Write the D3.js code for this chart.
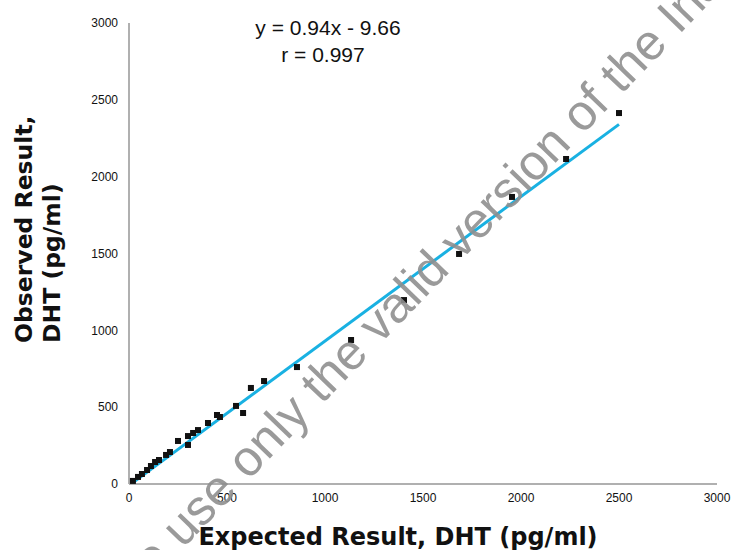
<!DOCTYPE html>
<html>
<head>
<meta charset="utf-8">
<script src="https://cdn.jsdelivr.net/npm/d3@7"></script>
<style>
  html, body { margin: 0; padding: 0; background: #fff; }
  svg { display: block; }
</style>
</head>
<body>
<script>
// ---- data ----
const expected = [20, 46, 66, 92, 112, 133, 153, 189, 209, 250, 301, 301, 327, 352, 403, 449, 464, 546, 582, 622, 689, 857, 1133, 1403, 1684, 1954, 2230, 2500];
const observed = [20, 46, 65, 91, 117, 143, 156, 189, 208, 280, 254, 312, 332, 351, 397, 449, 436, 508, 462, 625, 670, 761, 937, 1197, 1497, 1868, 2115, 2414];
const xTicks = [0, 500, 1000, 1500, 2000, 2500, 3000];
const yTicks = [0, 500, 1000, 1500, 2000, 2500, 3000];
const slope = 0.94, intercept = -9.66;
const equationLines = ["y = 0.94x - 9.66", "r = 0.997"];
const xTitle = "Expected Result, DHT (pg/ml)";
const yTitleLines = ["Observed Result,", "DHT (pg/ml)"];
const watermark = "ase use only the valid version of the Ins";

const W = 733, H = 550;
const svg = d3.select("body").append("svg").attr("width", W).attr("height", H);

const x = d3.scaleLinear().domain([0, 3000]).range([129, 717]);
const y = d3.scaleLinear().domain([0, 3000]).range([484, 23]);

// axes lines
svg.append("line").attr("x1", x(0)).attr("x2", x(0)).attr("y1", y(0)).attr("y2", y(3000))
  .attr("stroke", "#b0b0b0").attr("stroke-width", 2);
svg.append("line").attr("x1", x(0)).attr("x2", x(3000)).attr("y1", y(0)).attr("y2", y(0))
  .attr("stroke", "#b0b0b0").attr("stroke-width", 2);

// tick labels
const tickFont = "'Liberation Sans', Arial, sans-serif";
svg.append("g").selectAll("text").data(xTicks).join("text")
  .attr("x", d => x(d)).attr("y", 502)
  .attr("text-anchor", "middle").attr("font-family", tickFont).attr("font-size", 12)
  .attr("fill", "#111").text(d => d);
svg.append("g").selectAll("text").data(yTicks).join("text")
  .attr("x", 118).attr("y", d => y(d)).attr("dy", "0.35em")
  .attr("text-anchor", "end").attr("font-family", tickFont).attr("font-size", 12)
  .attr("fill", "#111").text(d => d);

// regression line
const xMin = d3.min(expected), xMax = d3.max(expected);
svg.append("line")
  .attr("x1", x(xMin)).attr("y1", y(slope * xMin + intercept))
  .attr("x2", x(xMax)).attr("y2", y(slope * xMax + intercept))
  .attr("stroke", "#19b1e2").attr("stroke-width", 3);

// points
const pts = expected.map((e, i) => [e, observed[i]]);
svg.append("g").selectAll("rect").data(pts).join("rect")
  .attr("x", d => x(d[0]) - 3).attr("y", d => y(d[1]) - 3)
  .attr("width", 6).attr("height", 6).attr("fill", "#111");

// equation
svg.append("g").selectAll("text").data(equationLines).join("text")
  .attr("x", (d, i) => i === 0 ? 328 : 323).attr("y", (d, i) => 35 + i * 27)
  .attr("text-anchor", "middle").attr("font-family", "'Liberation Sans', Arial, sans-serif")
  .attr("font-size", 21).attr("fill", "#111").text(d => d);

// axis titles
svg.append("text").attr("x", 398).attr("y", 545).attr("text-anchor", "middle")
  .attr("font-family", "'DejaVu Sans', Verdana, sans-serif").attr("font-weight", "bold")
  .attr("font-size", 24).attr("fill", "#111").text(xTitle);
svg.append("g").attr("transform", "translate(0,343) rotate(-90)")
  .selectAll("text").data(yTitleLines).join("text")
  .attr("x", 0).attr("y", (d, i) => 32 + i * 28)
  .attr("text-anchor", "start")
  .attr("font-family", "'DejaVu Sans', Verdana, sans-serif").attr("font-weight", "bold")
  .attr("font-size", 23.5).attr("fill", "#111").text(d => d);

// watermark
svg.append("text").attr("transform", "translate(117,617) rotate(-46)")
  .attr("font-family", "'Liberation Sans', Arial, sans-serif").attr("font-size", 50)
  .attr("fill", "#8f8f8f").attr("fill-opacity", 0.9).text(watermark);
</script>
</body>
</html>
